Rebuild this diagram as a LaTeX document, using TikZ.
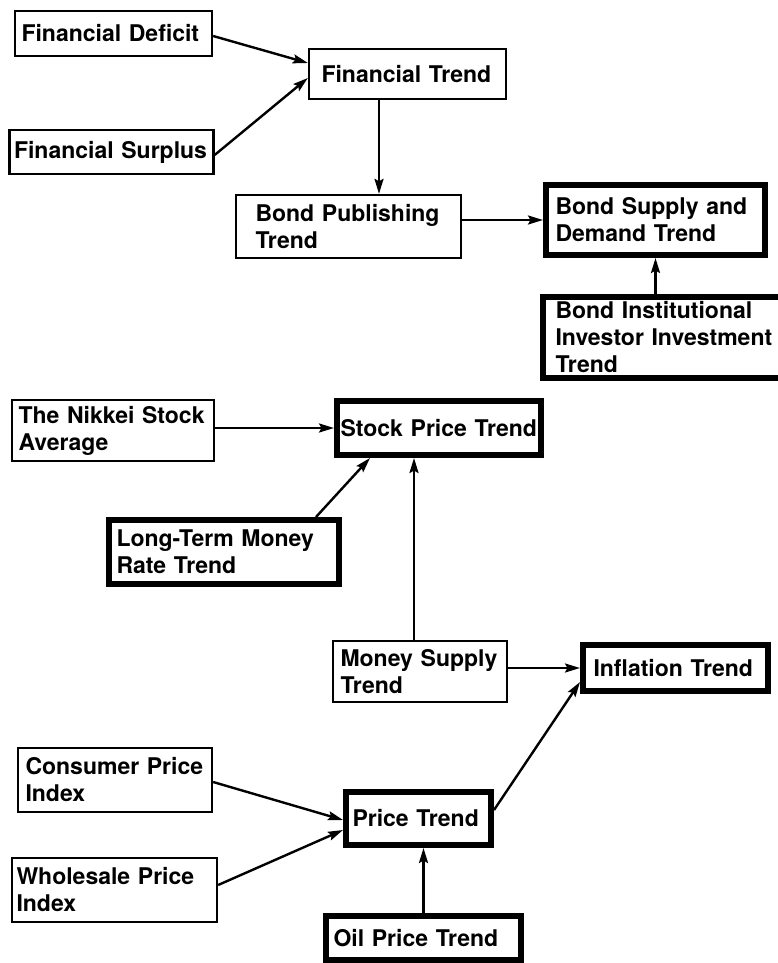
\documentclass[tikz,border=0pt]{standalone}
\usepackage{fontspec}
\setmainfont{TeX Gyre Heros}
\usetikzlibrary{arrows.meta}

\begin{document}
\begin{tikzpicture}[x=1pt,y=-1pt,
	box/.style={draw,rectangle,inner sep=0pt,align=left,font=\bfseries\fontsize{23}{27}\selectfont},
	thinbox/.style={box,line width=2.3pt},
	thickbox/.style={box,line width=6pt},
	arr/.style={line width=2.4pt,-{Stealth[length=15pt,width=9pt,inset=2.5pt]}}]
	\useasboundingbox (0,0) rectangle (778,963);
	\clip (0,0) rectangle (778,963);

	\node [thinbox,minimum width=197,minimum height=45,text width=184] (deficit) at (113.5,33.5) {Financial Deficit};
	\node [thinbox,minimum width=204,minimum height=44,text width=195] (surplus) at (111.5,152) {Financial Surplus};
	\node [thinbox,minimum width=197,minimum height=50,text width=172] (fintrend) at (407.5,74) {Financial Trend};
	\node [thinbox,minimum width=225,minimum height=63,text width=186] (bondpub) at (348.5,226.5) {Bond Publishing\\Trend};
	\node [thickbox,minimum width=219,minimum height=70,text width=200] (bondsd) at (655.5,220) {Bond Supply and\\Demand Trend};
	\node [thickbox,minimum width=244,minimum height=81,text width=219] (bondinv) at (665,337.5) {Bond Institutional\\Investor Investment\\Trend};

	\node [thinbox,minimum width=202,minimum height=61,text width=189] (nikkei) at (113,430.5) {The Nikkei Stock\\Average};
	\node [thickbox,minimum width=204,minimum height=54,text width=197] (stock) at (439,428) {Stock Price Trend};
	\node [thickbox,minimum width=230,minimum height=64,text width=215] (longterm) at (224,552) {Long-Term Money\\Rate Trend};
	\node [thinbox,minimum width=174,minimum height=61,text width=159] (moneysup) at (420,671.5) {Money Supply\\Trend};
	\node [thickbox,minimum width=185,minimum height=46,text width=164] (inflation) at (675.5,668) {Inflation Trend};

	\node [thinbox,minimum width=194,minimum height=64,text width=179] (consumer) at (115,780) {Consumer Price\\Index};
	\node [thickbox,minimum width=145,minimum height=53,text width=132] (pricetr) at (418.5,818.5) {Price Trend};
	\node [thinbox,minimum width=205,minimum height=64,text width=196] (wholesale) at (114.5,890) {Wholesale Price\\Index};
	\node [thickbox,minimum width=195,minimum height=44,text width=180] (oilprice) at (423.5,938) {Oil Price Trend};

	\draw [arr] ([yshift=-2.5]deficit.east) -- ([yshift=11]fintrend.west);
	\draw [arr] ([yshift=-3]surplus.east) -- ([yshift=-4]fintrend.west);
	\draw [arr] ([xshift=-28.5]fintrend.south) -- ([xshift=-28.5]fintrend.south |- bondpub.north);
	\draw [arr] (bondpub.east |- bondsd.west) -- (bondsd.west);
	\draw [arr] (bondinv.north -| bondsd.south) -- (bondsd.south);

	\draw [arr] (nikkei.east |- stock.west) -- (stock.west);
	\draw [arr] ([xshift=92]longterm.north) -- ([xshift=-69]stock.south);
	\draw [arr] ([xshift=-6]moneysup.north) -- ([xshift=-6]moneysup.north |- stock.south);
	\draw [arr] (moneysup.east |- inflation.west) -- (inflation.west);

	\draw [arr] ([yshift=8.5]pricetr.east) -- ([yshift=-14]inflation.west);
	\draw [arr] ([yshift=-2]consumer.east) -- ([yshift=-1.5]pricetr.west);
	\draw [arr] ([yshift=5]wholesale.east) -- ([yshift=-11.5]pricetr.west);
	\draw [arr] (oilprice.north) -- (oilprice.north |- pricetr.south);
\end{tikzpicture}
\end{document}
